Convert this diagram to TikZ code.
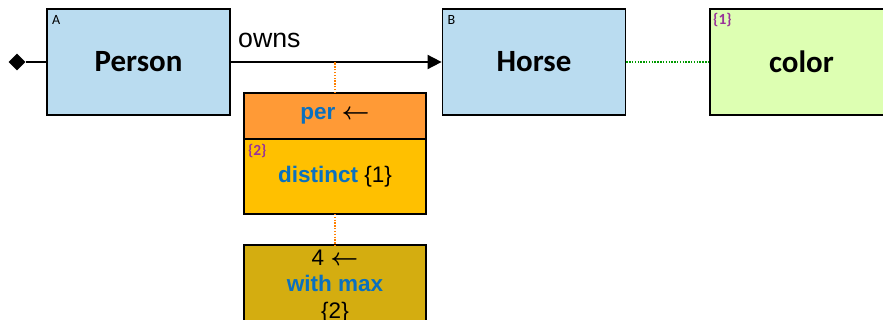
\documentclass[tikz,border=0pt]{standalone}
\usepackage{amsmath}
\usepackage{fontspec}
\setmainfont{Liberation Sans}
\newfontfamily\calibri{Carlito}
\usepackage{xcolor}
\usetikzlibrary{shapes.geometric, arrows.meta, positioning, calc}

\definecolor{entityblue}{HTML}{BADCF0}
\definecolor{valuegreen}{HTML}{DDFFB2}
\definecolor{perorange}{HTML}{FF9A36}
\definecolor{distinctyellow}{HTML}{FFC000}
\definecolor{maxgold}{HTML}{D4AD10}
\definecolor{keyblue}{HTML}{0A70BF}
\definecolor{tagpurple}{HTML}{993399}
\newcommand{\backarrow}{$\boldsymbol{\leftarrow}$}

\begin{document}
\begin{tikzpicture}[
    x=0.025cm, y=-0.025cm,
    entity/.style={rectangle, draw=black, line width=1.2pt, fill=entityblue,
        minimum width=4.575cm, minimum height=2.65cm,
        font=\calibri\bfseries\fontsize{22}{26}\selectfont},
    constraint/.style={rectangle, draw=black, line width=1.2pt, outer sep=0pt,
        minimum width=4.55cm, align=center, font=\fontsize{16}{19}\selectfont},
    tag/.style={inner sep=2pt, font=\calibri\fontsize{10}{11}\selectfont},
    numtag/.style={inner sep=2pt, text=tagpurple, font=\calibri\bfseries\fontsize{11}{12}\selectfont}
]
\useasboundingbox (0,0) rectangle (883,320);

% entities
\node (person) [entity] at (138.5,62) {Person};
\node (horse) [entity] at (534,62) {Horse};
\node (color) [entity, fill=valuegreen, text=black] at (801.5,62) {color};
\node (tagA) [tag, anchor=north west] at ($(person.north west)+(3,4)$) {A};
\node (tagB) [tag, anchor=north west] at ($(horse.north west)+(3,4)$) {B};
\node (tag1) [numtag, anchor=north west] at ($(color.north west)+(1,2)$) {\{1\}};

% relation
\node (start) [diamond, fill=black, inner sep=0pt, minimum size=12pt] at (17,62) {};
\draw[line width=1.2pt] (start) -- (person.west);
\draw[line width=1.2pt, -{Triangle[length=10pt, width=10pt]}] (person.east) -- (horse.west);
\node (owns) [anchor=base west, inner sep=0pt, font=\fontsize{19}{22}\selectfont] at ($(person.east)+(7,-14)$) {owns};
\draw[densely dotted, green!60!black, line width=1pt] (horse.east) -- (color.west);

% constraint
\node (per) [constraint, fill=perorange, minimum height=1.15cm] at (335,116)
    {\textcolor{keyblue}{\bfseries per} \backarrow};
\node (distinct) [constraint, fill=distinctyellow, minimum height=1.875cm, below=0pt of per]
    {\textcolor{keyblue}{\bfseries distinct} \{1\}};
\node (tag2) [numtag, anchor=north west] at ($(distinct.north west)+(1,2)$) {\{2\}};
\node (max) [constraint, fill=maxgold, minimum height=1.85cm, below=0.775cm of distinct]
    {4 \backarrow\\ \textcolor{keyblue}{\bfseries with max}\\ \{2\}};
\draw[densely dotted, orange, line width=1pt] (per.north) -- (per.north |- person.east);
\draw[densely dotted, orange, line width=1pt] (distinct.south) -- (max.north);
\end{tikzpicture}
\end{document}
